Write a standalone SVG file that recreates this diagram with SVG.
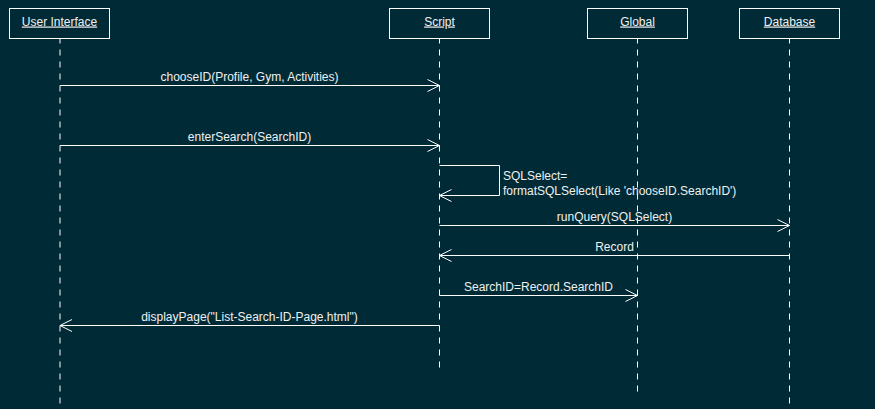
<svg xmlns="http://www.w3.org/2000/svg" width="875" height="409" viewBox="0 0 875 409">
<style>
.bg{fill:#002b36}
.box{fill:#002b36;stroke:#ffffff;stroke-width:1}
.life{stroke:#ffffff;stroke-width:1;stroke-dasharray:6 6;stroke-dashoffset:1;fill:none}
.msg{stroke:#ffffff;stroke-width:1;fill:none}
.head{stroke:#ffffff;stroke-width:1;fill:none}
.lbl{font-family:"Liberation Sans",Arial,sans-serif;font-size:12px;fill:#f0f0f0}
.name{font-family:"Liberation Sans",Arial,sans-serif;font-size:12px;fill:#f0f0f0;text-decoration:underline;text-anchor:middle}
.c{text-anchor:middle}
</style>
<rect class="bg" x="0" y="0" width="875" height="409"/>
<g id="lifelines">
<path class="life" d="M60,38.5V405"/>
<path class="life" d="M439.5,38.5V368"/>
<path class="life" d="M637.5,38.5V393"/>
<path class="life" d="M789.5,38.5V405"/>
</g>
<g id="node-ui"><rect class="box" x="9.5" y="8.5" width="100" height="30"/><text class="name" x="59.5" y="25.5">User Interface</text></g>
<g id="node-script"><rect class="box" x="389.5" y="8.5" width="100" height="30"/><text class="name" x="439.5" y="25.5">Script</text></g>
<g id="node-global"><rect class="box" x="587.5" y="8.5" width="100" height="30"/><text class="name" x="637.5" y="25.5">Global</text></g>
<g id="node-database"><rect class="box" x="739.5" y="8.5" width="100" height="30"/><text class="name" x="789.5" y="25.5">Database</text></g>
<g id="connectors">
<path class="msg" d="M60,85.5H439.5"/><path class="head" d="M427.5,79.5L439.5,85.5L427.5,91.5"/>
<text class="lbl c" x="249.5" y="80.5">chooseID(Profile, Gym, Activities)</text>
<path class="msg" d="M60,145.5H439.5"/><path class="head" d="M427.5,139.5L439.5,145.5L427.5,151.5"/>
<text class="lbl c" x="249.5" y="140.5">enterSearch(SearchID)</text>
<path class="msg" d="M439.5,165.5H499.5V195.5H439.5"/><path class="head" d="M451.5,189.5L439.5,195.5L451.5,201.5"/>
<text class="lbl" x="503" y="179.5">SQLSelect=</text>
<text class="lbl" x="503" y="194.5">formatSQLSelect(Like 'chooseID.SearchID')</text>
<path class="msg" d="M439.5,225.5H789.5"/><path class="head" d="M777.5,219.5L789.5,225.5L777.5,231.5"/>
<text class="lbl c" x="614.5" y="220.5">runQuery(SQLSelect)</text>
<path class="msg" d="M789.5,255.5H439.5"/><path class="head" d="M451.5,249.5L439.5,255.5L451.5,261.5"/>
<text class="lbl c" x="614.5" y="250.5">Record</text>
<path class="msg" d="M439.5,295.5H637.5"/><path class="head" d="M625.5,289.5L637.5,295.5L625.5,301.5"/>
<text class="lbl c" x="538.5" y="290.5">SearchID=Record.SearchID</text>
<path class="msg" d="M439.5,325.5H60"/><path class="head" d="M72,319.5L60,325.5L72,331.5"/>
<text class="lbl c" x="249.5" y="320.5">displayPage("List-Search-ID-Page.html")</text>
</g>
</svg>
